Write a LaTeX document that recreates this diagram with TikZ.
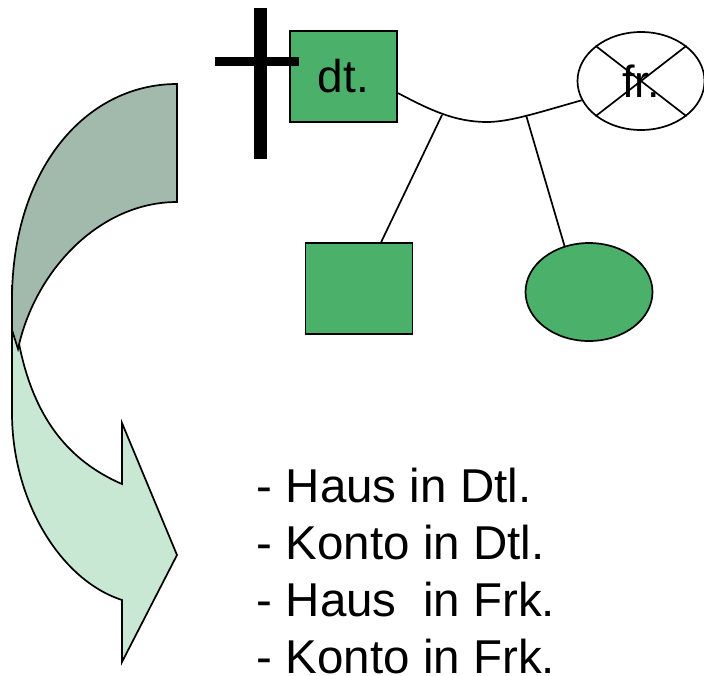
\documentclass[tikz,border=0pt]{standalone}
\usepackage{fontspec}
\setmainfont{Liberation Sans}
\usetikzlibrary{positioning,shapes.geometric}
\definecolor{kin}{HTML}{4BB06A}
\definecolor{arrowdark}{HTML}{A2BAAC}
\definecolor{arrowlight}{HTML}{C8E8D4}

\begin{document}
\begin{tikzpicture}[
		x=1pt, y=-1pt
		,line width=1.7pt
		,m/.style={draw, rectangle, fill=kin, minimum width=107pt, minimum height=91pt, inner sep=0pt, font=\fontsize{46}{50}\selectfont}
		,f/.style={draw, ellipse, minimum width=127pt, minimum height=98pt, inner sep=0pt, font=\fontsize{45}{50}\selectfont}
		,item/.style={anchor=base west, inner sep=0pt, font=\fontsize{47.5}{57}\selectfont}
	]
		\useasboundingbox (0,0) rectangle (704,675);

		% curved arrow
		\draw[fill=arrowlight] (12,285) -- (12,413) .. controls (12,500) and (60,580) .. (122,600)
			-- (122,662) -- (177,555) -- (122,423) -- (122,484)
			.. controls (55,455) and (18,395) .. (12,285) -- cycle;
		\draw[fill=arrowdark] (177,84) .. controls (85,84) and (12,170) .. (12,300) -- (12,330) -- (18,349)
			.. controls (35,270) and (100,202) .. (177,202) -- cycle;

		\node[m] (D) at (343.5,76.5) {dt.};
		\node[f] (F) at (641,81) {fr.};
		\node[m] (S) at (359,288.5) {};
		\node[f, fill=kin] (T) at (589,292) {};

		% cross
		\draw[line width=13pt] (260.5,8) -- (260.5,159);
		\draw[line width=9pt] (215,61.5) -- (299,61.5);
		\draw (F.north west) -- (F.south east) (F.south west) -- (F.north east);

		\coordinate (W) at (487,122);
		\coordinate (B1) at (442,115);
		\coordinate (B2) at (526,115);
		\draw ([yshift=-16.5pt]D.east) .. controls (430,110) and (455,122) .. (W)
			.. controls (510,122) and (540,112) .. (F.198);
		\draw (B1) -- (S);
		\draw (B2) -- (T.118);

		\foreach \t [count=\i] in {Haus in Dtl., Konto in Dtl., Haus\ \ in Frk., Konto in Frk.}
			\node[item] (L\i) at (256, 445+57*\i) {- \t};
	\end{tikzpicture}
\end{document}
